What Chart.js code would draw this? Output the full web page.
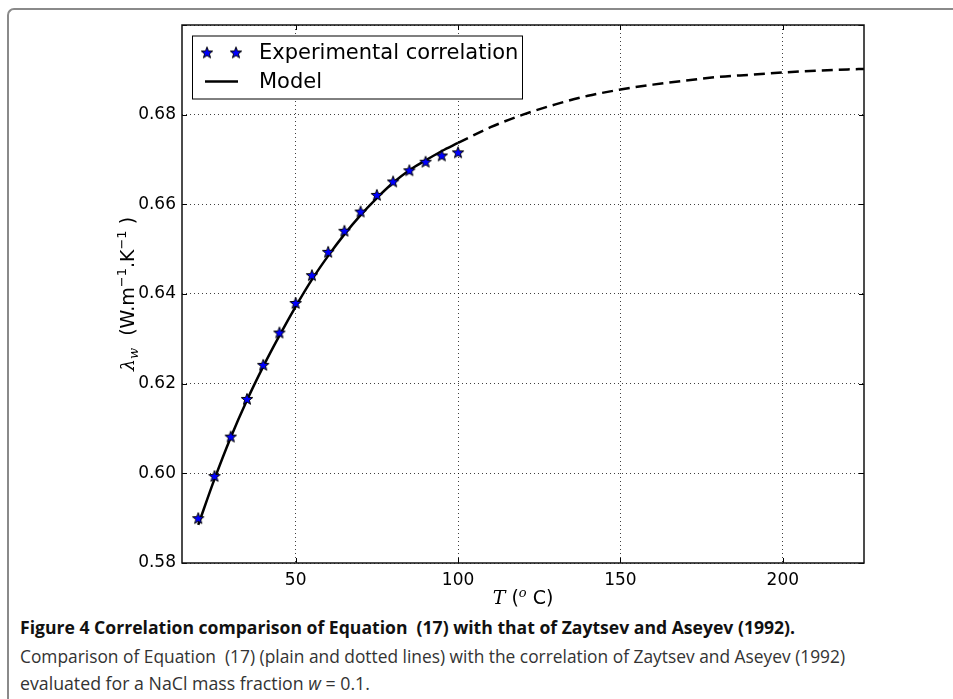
<!DOCTYPE html>
<html>
<head>
<meta charset="utf-8">
<script src="https://cdn.jsdelivr.net/npm/chart.js@4/dist/chart.umd.min.js"></script>
<style>
  html, body { margin: 0; padding: 0; background: #fff; }
  #wrap { position: relative; width: 953px; height: 699px; overflow: hidden; }
  #frame { position: absolute; left: 7px; top: 8px; width: 960px; height: 720px;
           border-top: 2px solid #8a8a8a; border-left: 2px solid #8a8a8a; border-top-left-radius: 7px; }
  #chartBox { position: absolute; left: 0; top: 0; width: 953px; height: 615px; }
  .cap { position: absolute; left: 20px; font-family: "Open Sans", Lato, sans-serif;
         font-size: 18px; color: #333; white-space: nowrap; transform-origin: 0 0; }
  #cap1 { top: 615px; font-weight: bold; color: #111; }
  #cap2 { top: 644px; }
  #cap3 { top: 671px; }
</style>
</head>
<body>
<div id="wrap">
  <div id="frame"></div>
  <div id="chartBox"><canvas id="chart" width="953" height="615"></canvas></div>
  <div class="cap" id="cap1">Figure 4 Correlation comparison of Equation &nbsp;(17) with that of Zaytsev and Aseyev (1992).</div>
  <div class="cap" id="cap2">Comparison of Equation &nbsp;(17) (plain and dotted lines) with the correlation of Zaytsev and Aseyev (1992)</div>
  <div class="cap" id="cap3">evaluated for a NaCl mass fraction <i>w</i> = 0.1.</div>
</div>
<script>
// experimental correlation (Zaytsev & Aseyev)
const tExp = [20, 25, 30, 35, 40, 45, 50, 55, 60, 65, 70, 75, 80, 85, 90, 95, 100];
const lambdaExp = [0.5900, 0.5994, 0.6082, 0.6166, 0.6242, 0.6314, 0.6380, 0.6442, 0.6494,
                   0.6541, 0.6584, 0.6621, 0.6651, 0.6676, 0.6695, 0.6709, 0.6716];

// model, plain line
const tModel = [20, 25, 30, 35, 40, 45, 50, 55, 60, 65, 70, 75, 80, 85, 90, 95, 100];
const lambdaModel = [0.5885, 0.5987, 0.6080, 0.6163, 0.6238, 0.6307, 0.6372, 0.6432, 0.6485,
                     0.6533, 0.6576, 0.6614, 0.6648, 0.6676, 0.6698, 0.6719, 0.6737];

// model, dotted (extrapolated) part
const tExtrap = [100, 110, 120, 130, 140, 150, 160, 170, 180, 190, 200, 210, 220, 225];
const lambdaExtrap = [0.6737, 0.6772, 0.6800, 0.6823, 0.6842, 0.6856, 0.6867, 0.6876,
                      0.6884, 0.6889, 0.6894, 0.6898, 0.6901, 0.6902];

const xTicks = [50, 100, 150, 200];
const yTicks = [0.58, 0.60, 0.62, 0.64, 0.66, 0.68, 0.70];

// caption widths in the reference, used to squeeze the wider fallback font
const capWidths = { cap1: 775, cap2: 825, cap3: 350 };

function toPoints(xs, ys) {
    return xs.map(function (x, i) { return { x: x, y: ys[i] }; });
}

function makeStar(r) {
    const c = document.createElement('canvas');
    const s = Math.ceil(r * 2 + 4);
    c.width = s; c.height = s;
    const g = c.getContext('2d');
    g.beginPath();
    for (let i = 0; i < 10; i++) {
        const rad = i % 2 ? r * 0.42 : r;
        const a = -Math.PI / 2 + i * Math.PI / 5;
        g.lineTo(s / 2 + rad * Math.cos(a), s / 2 + 0.5 + rad * Math.sin(a));
    }
    g.closePath();
    g.fillStyle = '#0000ff';
    g.fill();
    g.lineWidth = 1;
    g.strokeStyle = '#000';
    g.stroke();
    return c;
}
const star = makeStar(6);

// draw a run of text pieces with different fonts, centred on x
function drawRuns(ctx, runs, cx, cy) {
    let total = 0;
    runs.forEach(function (r) { ctx.font = r.font; r.w = ctx.measureText(r.text).width; total += r.w; });
    let x = cx - total / 2;
    ctx.textBaseline = 'alphabetic';
    ctx.textAlign = 'left';
    runs.forEach(function (r) {
        ctx.font = r.font;
        ctx.fillText(r.text, x, cy + (r.dy || 0));
        x += r.w;
    });
}

const extras = {
    id: 'extras',
    afterDraw: function (chart) {
        const ctx = chart.ctx;
        const ca = chart.chartArea;
        const xs = chart.scales.x, ys = chart.scales.y;
        ctx.save();
        ctx.fillStyle = '#000';
        ctx.strokeStyle = '#000';

        // inward ticks on all four sides
        ctx.lineWidth = 1;
        ctx.beginPath();
        xTicks.forEach(function (v) {
            const px = Math.round(xs.getPixelForValue(v)) + 0.5;
            ctx.moveTo(px, ca.bottom); ctx.lineTo(px, ca.bottom - 5);
            ctx.moveTo(px, ca.top); ctx.lineTo(px, ca.top + 5);
        });
        yTicks.forEach(function (v) {
            const py = Math.round(ys.getPixelForValue(v)) + 0.5;
            ctx.moveTo(ca.left, py); ctx.lineTo(ca.left + 5, py);
            ctx.moveTo(ca.right, py); ctx.lineTo(ca.right - 5, py);
        });
        ctx.stroke();

        // axes box
        ctx.lineWidth = 1.5;
        ctx.strokeStyle = '#111';
        ctx.strokeRect(ca.left, ca.top, ca.right - ca.left, ca.bottom - ca.top);

        // legend
        const bx = ca.left + 10, by = ca.top + 10.5, bw = 330, bh = 63;
        ctx.fillStyle = '#fff';
        ctx.fillRect(bx, by, bw, bh);
        ctx.lineWidth = 1;
        ctx.strokeStyle = '#000';
        ctx.strokeRect(bx + 0.5, by + 0.5, bw, bh);
        ctx.drawImage(star, bx + 15 - star.width / 2, by + 17 - star.height / 2);
        ctx.drawImage(star, bx + 44 - star.width / 2, by + 17 - star.height / 2);
        ctx.lineWidth = 2.5;
        ctx.beginPath();
        ctx.moveTo(bx + 13, by + 46); ctx.lineTo(bx + 46, by + 46);
        ctx.stroke();
        ctx.fillStyle = '#000';
        ctx.font = '21px "DejaVu Sans"';
        ctx.textBaseline = 'middle';
        ctx.textAlign = 'left';
        ctx.fillText('Experimental correlation', bx + 67, by + 18);
        ctx.fillText('Model', bx + 67, by + 47);

        // x axis title: T (o C)
        drawRuns(ctx, [
            { text: 'T', font: 'italic 19px "DejaVu Serif"' },
            { text: ' (', font: '19px "DejaVu Sans"' },
            { text: 'o', font: 'italic 13px "DejaVu Serif"', dy: -7 },
            { text: ' C)', font: '19px "DejaVu Sans"' }
        ], (ca.left + ca.right) / 2, 604);

        // y axis title, rotated
        ctx.save();
        ctx.translate(127, (ca.top + ca.bottom) / 2);
        ctx.rotate(-Math.PI / 2);
        drawRuns(ctx, [
            { text: 'λ', font: 'italic 19px "DejaVu Serif"' },
            { text: 'w', font: 'italic 13px "DejaVu Serif"', dy: 4 },
            { text: '  (W.m', font: '19px "DejaVu Sans"' },
            { text: '−1', font: '13px "DejaVu Sans"', dy: -8 },
            { text: '.K', font: '19px "DejaVu Sans"' },
            { text: '−1', font: '13px "DejaVu Sans"', dy: -8 },
            { text: ' )', font: '19px "DejaVu Sans"' }
        ], 0, 7);
        ctx.restore();

        ctx.restore();
    }
};

const gridStyle = {
    color: 'rgba(0,0,0,0.75)',
    lineWidth: 1,
    drawTicks: false
};

new Chart(document.getElementById('chart').getContext('2d'), {
    type: 'scatter',
    data: {
        datasets: [{
            label: 'Experimental correlation',
            data: toPoints(tExp, lambdaExp),
            showLine: false,
            pointStyle: star,
            pointRadius: 6,
            order: 0
        }, {
            label: 'Model',
            data: toPoints(tModel, lambdaModel),
            showLine: true,
            borderColor: '#000',
            borderWidth: 2.5,
            pointRadius: 0,
            cubicInterpolationMode: 'monotone',
            order: 1
        }, {
            label: 'Model (extrapolated)',
            data: toPoints(tExtrap, lambdaExtrap),
            showLine: true,
            borderColor: '#000',
            borderWidth: 2.5,
            borderDash: [11, 6],
            pointRadius: 0,
            cubicInterpolationMode: 'monotone',
            order: 1
        }]
    },
    options: {
        responsive: false,
        animation: false,
        layout: { padding: { left: 0, right: 89, top: 25, bottom: 0 } },
        plugins: {
            legend: { display: false },
            tooltip: { enabled: false }
        },
        scales: {
            x: {
                type: 'linear',
                min: 15,
                max: 225,
                afterBuildTicks: function (scale) {
                    scale.ticks = xTicks.map(function (v) { return { value: v }; });
                },
                afterFit: function (scale) { scale.height = 52; },
                grid: gridStyle,
                border: { display: false, dash: [1, 3] },
                ticks: {
                    color: '#000',
                    padding: 7,
                    maxRotation: 0,
                    font: { family: 'DejaVu Sans', size: 17 }
                }
            },
            y: {
                type: 'linear',
                min: 0.58,
                max: 0.70,
                afterBuildTicks: function (scale) {
                    scale.ticks = yTicks.map(function (v) { return { value: v }; });
                },
                afterFit: function (scale) { scale.width = 182; },
                grid: gridStyle,
                border: { display: false, dash: [1, 3] },
                ticks: {
                    color: '#000',
                    padding: 6,
                    font: { family: 'DejaVu Sans', size: 17 },
                    callback: function (v) {
                        return Math.abs(v - 0.70) < 1e-9 ? '' : v.toFixed(2);
                    }
                }
            }
        }
    },
    plugins: [extras]
});

// squeeze caption lines to the reference widths
Object.keys(capWidths).forEach(function (id) {
    const el = document.getElementById(id);
    const w = el.getBoundingClientRect().width;
    if (w > 0) el.style.transform = 'scaleX(' + (capWidths[id] / w).toFixed(3) + ')';
});
</script>
</body>
</html>
